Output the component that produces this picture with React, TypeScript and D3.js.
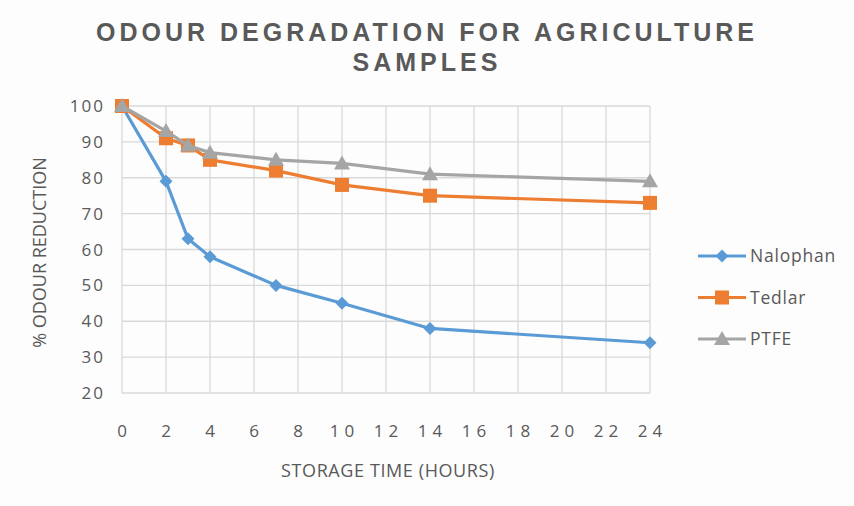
import React from 'react';
import * as d3 from 'd3';

const hours = [0, 2, 3, 4, 7, 10, 14, 24];
const nalophan = [100, 79, 63, 58, 50, 45, 38, 34];
const tedlar = [100, 91, 89, 85, 82, 78, 75, 73];
const ptfe = [100, 93, 89, 87, 85, 84, 81, 79];
const xTicks = [0, 2, 4, 6, 8, 10, 12, 14, 16, 18, 20, 22, 24];
const yTicks = [20, 30, 40, 50, 60, 70, 80, 90, 100];

const series = [
  { name: 'Nalophan', values: nalophan, color: '#5B9BD5', marker: 'diamond' },
  { name: 'Tedlar', values: tedlar, color: '#ED7D31', marker: 'square' },
  { name: 'PTFE', values: ptfe, color: '#A5A5A5', marker: 'triangle' },
];

const width = 854;
const height = 506;
const margin = { top: 106, right: 204, bottom: 113, left: 122 };
const textColor = '#595959';
const font = '"Open Sans", "Noto Sans", sans-serif';

function Marker({ type, x, y, color }: { type: string; x: number; y: number; color: string }) {
  if (type === 'diamond') {
    const s = 6.5;
    return <path d={`M${x},${y - s}L${x + s},${y}L${x},${y + s}L${x - s},${y}Z`} fill={color} />;
  }
  if (type === 'square') {
    const s = 7;
    return <rect x={x - s} y={y - s} width={s * 2} height={s * 2} fill={color} />;
  }
  const s = 8;
  return <path d={`M${x},${y - s}L${x + s},${y + s * 0.75}L${x - s},${y + s * 0.75}Z`} fill={color} />;
}

export default function App() {
  const x = d3.scaleLinear().domain([0, 24]).range([margin.left, width - margin.right]);
  const y = d3.scaleLinear().domain([20, 100]).range([height - margin.bottom, margin.top]);
  const line = d3
    .line<number>()
    .x((_, i) => x(hours[i]))
    .y((d) => y(d));

  return (
    <svg width={width} height={height} style={{ display: 'block', position: 'absolute', left: 0, top: 0 }}>
      <rect width={width} height={height} fill="#fdfdfd" />
      <text
        x={427}
        y={41}
        textAnchor="middle"
        fontFamily='"Liberation Sans", Arial, sans-serif'
        fontWeight="bold"
        fontSize={25}
        letterSpacing={4}
        fill={textColor}
      >
        <tspan x={427}>ODOUR DEGRADATION FOR AGRICULTURE</tspan>
        <tspan x={427} dy={30}>SAMPLES</tspan>
      </text>

      {yTicks.map((t) => (
        <line key={'gy' + t} x1={x(0)} x2={x(24)} y1={y(t)} y2={y(t)} stroke="#d9d9d9" strokeWidth={1.3} />
      ))}
      {xTicks.map((t) => (
        <line key={'gx' + t} x1={x(t)} x2={x(t)} y1={y(20)} y2={y(100)} stroke="#d9d9d9" strokeWidth={1.3} />
      ))}

      {yTicks.map((t) => (
        <text key={'ly' + t} x={105} y={y(t)} dy="0.36em" textAnchor="end" fontFamily={font} fontSize={17} letterSpacing={2} fill={textColor}>
          {t}
        </text>
      ))}
      {xTicks.map((t) => (
        <text key={'lx' + t} x={x(t) + 2.5} y={437} textAnchor="middle" fontFamily={font} fontSize={17} letterSpacing={5} fill={textColor}>
          {t}
        </text>
      ))}

      <text
        transform={`translate(46, ${y(60) + 3}) rotate(-90)`}
        textAnchor="middle"
        fontFamily={font}
        fontSize={18}
        fill={textColor}
      >
        % ODOUR REDUCTION
      </text>
      <text x={388} y={477} textAnchor="middle" fontFamily={font} fontSize={18} letterSpacing={0.6} fill={textColor}>
        STORAGE TIME (HOURS)
      </text>

      {series.map((s) => (
        <g key={s.name}>
          <path d={line(s.values) ?? ''} fill="none" stroke={s.color} strokeWidth={3.2} strokeLinejoin="round" />
          {s.values.map((v, i) => (
            <Marker key={i} type={s.marker} x={x(hours[i])} y={y(v)} color={s.color} />
          ))}
        </g>
      ))}

      {series.map((s, i) => {
        const ly = 256 + i * 41.5;
        return (
          <g key={'leg' + s.name}>
            <line x1={698} x2={746} y1={ly} y2={ly} stroke={s.color} strokeWidth={3} />
            <Marker type={s.marker} x={722} y={ly} color={s.color} />
            <text x={750} y={ly} dy="0.36em" fontFamily={font} fontSize={17.5} letterSpacing={0.8} fill={textColor}>
              {s.name}
            </text>
          </g>
        );
      })}
    </svg>
  );
}
